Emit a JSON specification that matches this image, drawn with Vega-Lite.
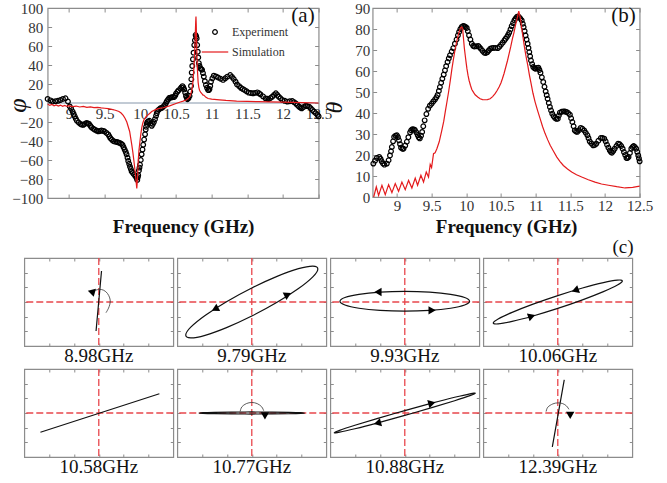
{
  "$schema": "https://vega.github.io/schema/vega-lite/v6.json",
  "padding": {"left": 4, "top": 0, "right": 0, "bottom": 0},
  "config": {
    "font": "Liberation Serif",
    "view": {"stroke": "#8c8c8c", "strokeWidth": 1.2},
    "axis": {
      "grid": false, "domain": false, "tickColor": "#8c8c8c", "tickWidth": 1,
      "labelFont": "Liberation Serif", "labelFontSize": 15, "labelColor": "#333333",
      "labelFlush": false, "labelOverlap": false,
      "titleFont": "Liberation Serif", "titleColor": "#111111"
    },
    "title": {"font": "Liberation Serif", "fontWeight": "normal", "color": "#111111"}
  },
  "datasets": {
    "phi": [
      {"s":"Experiment","f":8.70,"v":4.3},{"s":"Experiment","f":8.74,"v":2.8},{"s":"Experiment","f":8.77,"v":1.6},{"s":"Experiment","f":8.81,"v":1.8},
      {"s":"Experiment","f":8.845,"v":2.3},{"s":"Experiment","f":8.88,"v":3.2},{"s":"Experiment","f":8.915,"v":4.3},{"s":"Experiment","f":8.95,"v":5},
      {"s":"Experiment","f":8.985,"v":1.6},{"s":"Experiment","f":9.01,"v":-3.6},{"s":"Experiment","f":9.03,"v":-6},{"s":"Experiment","f":9.05,"v":-9},
      {"s":"Experiment","f":9.065,"v":-11.5},{"s":"Experiment","f":9.08,"v":-14},{"s":"Experiment","f":9.095,"v":-16.5},{"s":"Experiment","f":9.11,"v":-18.7},
      {"s":"Experiment","f":9.135,"v":-20.5},{"s":"Experiment","f":9.16,"v":-22},{"s":"Experiment","f":9.18,"v":-22.8},{"s":"Experiment","f":9.2,"v":-23},
      {"s":"Experiment","f":9.22,"v":-22},{"s":"Experiment","f":9.245,"v":-21},{"s":"Experiment","f":9.265,"v":-21.5},{"s":"Experiment","f":9.28,"v":-22},
      {"s":"Experiment","f":9.3,"v":-24},{"s":"Experiment","f":9.315,"v":-25.6},{"s":"Experiment","f":9.34,"v":-27},{"s":"Experiment","f":9.36,"v":-28},
      {"s":"Experiment","f":9.385,"v":-29},{"s":"Experiment","f":9.41,"v":-29.8},{"s":"Experiment","f":9.435,"v":-29.5},{"s":"Experiment","f":9.455,"v":-29},
      {"s":"Experiment","f":9.48,"v":-29.3},{"s":"Experiment","f":9.5,"v":-30},{"s":"Experiment","f":9.525,"v":-31.5},{"s":"Experiment","f":9.55,"v":-33},
      {"s":"Experiment","f":9.565,"v":-35},{"s":"Experiment","f":9.58,"v":-37},{"s":"Experiment","f":9.6,"v":-38.5},{"s":"Experiment","f":9.62,"v":-40},
      {"s":"Experiment","f":9.645,"v":-40.7},{"s":"Experiment","f":9.67,"v":-41},{"s":"Experiment","f":9.69,"v":-41.5},{"s":"Experiment","f":9.71,"v":-42},
      {"s":"Experiment","f":9.73,"v":-42.8},{"s":"Experiment","f":9.75,"v":-44},{"s":"Experiment","f":9.765,"v":-46.5},{"s":"Experiment","f":9.78,"v":-49},
      {"s":"Experiment","f":9.795,"v":-51.5},{"s":"Experiment","f":9.807,"v":-54},{"s":"Experiment","f":9.82,"v":-57.5},{"s":"Experiment","f":9.83,"v":-61},
      {"s":"Experiment","f":9.843,"v":-64},{"s":"Experiment","f":9.855,"v":-67},{"s":"Experiment","f":9.867,"v":-69.5},{"s":"Experiment","f":9.878,"v":-72},
      {"s":"Experiment","f":9.895,"v":-73.5},{"s":"Experiment","f":9.91,"v":-75},{"s":"Experiment","f":9.93,"v":-77},{"s":"Experiment","f":9.948,"v":-79},
      {"s":"Experiment","f":9.957,"v":-81},{"s":"Experiment","f":9.965,"v":-78},{"s":"Experiment","f":9.97,"v":-76},{"s":"Experiment","f":9.98,"v":-71},
      {"s":"Experiment","f":9.988,"v":-68},{"s":"Experiment","f":9.995,"v":-65},{"s":"Experiment","f":10.006,"v":-60},{"s":"Experiment","f":10.018,"v":-54},
      {"s":"Experiment","f":10.03,"v":-49},{"s":"Experiment","f":10.04,"v":-44},{"s":"Experiment","f":10.053,"v":-38.5},{"s":"Experiment","f":10.066,"v":-33},
      {"s":"Experiment","f":10.075,"v":-28},{"s":"Experiment","f":10.08,"v":-25},{"s":"Experiment","f":10.09,"v":-22},{"s":"Experiment","f":10.098,"v":-20},
      {"s":"Experiment","f":10.11,"v":-19.5},{"s":"Experiment","f":10.127,"v":-18.7},{"s":"Experiment","f":10.145,"v":-21.5},{"s":"Experiment","f":10.16,"v":-24},
      {"s":"Experiment","f":10.175,"v":-22},{"s":"Experiment","f":10.19,"v":-20},{"s":"Experiment","f":10.205,"v":-17},{"s":"Experiment","f":10.22,"v":-13.5},
      {"s":"Experiment","f":10.23,"v":-10.8},{"s":"Experiment","f":10.24,"v":-8.3},{"s":"Experiment","f":10.258,"v":-7},{"s":"Experiment","f":10.276,"v":-5.8},
      {"s":"Experiment","f":10.295,"v":-5.2},{"s":"Experiment","f":10.31,"v":-4.7},{"s":"Experiment","f":10.33,"v":-3.2},{"s":"Experiment","f":10.346,"v":-1.8},
      {"s":"Experiment","f":10.36,"v":0},{"s":"Experiment","f":10.37,"v":1.8},{"s":"Experiment","f":10.388,"v":3.5},{"s":"Experiment","f":10.403,"v":5.3},
      {"s":"Experiment","f":10.42,"v":5.7},{"s":"Experiment","f":10.44,"v":6},{"s":"Experiment","f":10.458,"v":6.2},{"s":"Experiment","f":10.475,"v":6.3},
      {"s":"Experiment","f":10.49,"v":8},{"s":"Experiment","f":10.5,"v":10},{"s":"Experiment","f":10.52,"v":11.8},{"s":"Experiment","f":10.535,"v":13.3},
      {"s":"Experiment","f":10.56,"v":15},{"s":"Experiment","f":10.575,"v":16.5},{"s":"Experiment","f":10.591,"v":17.8},{"s":"Experiment","f":10.603,"v":16.5},
      {"s":"Experiment","f":10.615,"v":14.3},{"s":"Experiment","f":10.628,"v":11},{"s":"Experiment","f":10.64,"v":7.4},{"s":"Experiment","f":10.65,"v":5.5},
      {"s":"Experiment","f":10.66,"v":4},{"s":"Experiment","f":10.675,"v":5},{"s":"Experiment","f":10.69,"v":7.4},{"s":"Experiment","f":10.7,"v":12},
      {"s":"Experiment","f":10.71,"v":18},{"s":"Experiment","f":10.715,"v":25},{"s":"Experiment","f":10.72,"v":32},{"s":"Experiment","f":10.728,"v":39},
      {"s":"Experiment","f":10.737,"v":46},{"s":"Experiment","f":10.746,"v":53},{"s":"Experiment","f":10.756,"v":61},{"s":"Experiment","f":10.765,"v":66},
      {"s":"Experiment","f":10.775,"v":71.6},{"s":"Experiment","f":10.783,"v":70},{"s":"Experiment","f":10.79,"v":68},{"s":"Experiment","f":10.797,"v":61},
      {"s":"Experiment","f":10.805,"v":54},{"s":"Experiment","f":10.812,"v":48},{"s":"Experiment","f":10.82,"v":42},{"s":"Experiment","f":10.83,"v":39},
      {"s":"Experiment","f":10.84,"v":36.6},{"s":"Experiment","f":10.853,"v":35.8},{"s":"Experiment","f":10.866,"v":35},{"s":"Experiment","f":10.878,"v":31.5},
      {"s":"Experiment","f":10.89,"v":27.8},{"s":"Experiment","f":10.905,"v":23},{"s":"Experiment","f":10.92,"v":18.9},{"s":"Experiment","f":10.935,"v":16},
      {"s":"Experiment","f":10.95,"v":13.7},{"s":"Experiment","f":10.96,"v":13.5},{"s":"Experiment","f":10.97,"v":14.7},{"s":"Experiment","f":10.98,"v":18},
      {"s":"Experiment","f":10.99,"v":22.4},{"s":"Experiment","f":11.01,"v":26},{"s":"Experiment","f":11.03,"v":28.8},{"s":"Experiment","f":11.06,"v":28},
      {"s":"Experiment","f":11.09,"v":26.8},{"s":"Experiment","f":11.125,"v":25.5},{"s":"Experiment","f":11.16,"v":24.3},{"s":"Experiment","f":11.19,"v":26},
      {"s":"Experiment","f":11.22,"v":27.8},{"s":"Experiment","f":11.26,"v":29.5},{"s":"Experiment","f":11.285,"v":27.5},{"s":"Experiment","f":11.31,"v":25.3},
      {"s":"Experiment","f":11.335,"v":22.5},{"s":"Experiment","f":11.356,"v":19.6},{"s":"Experiment","f":11.385,"v":17.8},{"s":"Experiment","f":11.41,"v":16},
      {"s":"Experiment","f":11.435,"v":14.8},{"s":"Experiment","f":11.46,"v":13.7},{"s":"Experiment","f":11.49,"v":12.3},{"s":"Experiment","f":11.52,"v":10.9},
      {"s":"Experiment","f":11.55,"v":10.5},{"s":"Experiment","f":11.58,"v":10.2},{"s":"Experiment","f":11.61,"v":10.7},{"s":"Experiment","f":11.64,"v":11.2},
      {"s":"Experiment","f":11.665,"v":10.2},{"s":"Experiment","f":11.685,"v":9.1},{"s":"Experiment","f":11.72,"v":7},{"s":"Experiment","f":11.755,"v":4.9},
      {"s":"Experiment","f":11.78,"v":4.5},{"s":"Experiment","f":11.8,"v":4.2},{"s":"Experiment","f":11.825,"v":5.3},{"s":"Experiment","f":11.85,"v":6.7},
      {"s":"Experiment","f":11.875,"v":8.5},{"s":"Experiment","f":11.9,"v":10.2},{"s":"Experiment","f":11.92,"v":8.5},{"s":"Experiment","f":11.94,"v":6.7},
      {"s":"Experiment","f":11.965,"v":5},{"s":"Experiment","f":11.99,"v":3.2},{"s":"Experiment","f":12.025,"v":2.3},{"s":"Experiment","f":12.06,"v":1.5},
      {"s":"Experiment","f":12.095,"v":1.8},{"s":"Experiment","f":12.13,"v":2.1},{"s":"Experiment","f":12.155,"v":0.9},{"s":"Experiment","f":12.18,"v":-0.4},
      {"s":"Experiment","f":12.2,"v":-2},{"s":"Experiment","f":12.225,"v":-3.9},{"s":"Experiment","f":12.245,"v":-4.8},{"s":"Experiment","f":12.263,"v":-5.6},
      {"s":"Experiment","f":12.29,"v":-4.2},{"s":"Experiment","f":12.32,"v":-2.8},{"s":"Experiment","f":12.34,"v":-3.3},{"s":"Experiment","f":12.365,"v":-3.9},
      {"s":"Experiment","f":12.39,"v":-5.5},{"s":"Experiment","f":12.41,"v":-7.3},{"s":"Experiment","f":12.435,"v":-9},{"s":"Experiment","f":12.46,"v":-10.8},
      {"s":"Experiment","f":12.485,"v":-12.5},{"s":"Experiment","f":12.5,"v":-14},
      {"s":"Simulation","f":8.7,"v":-1},{"s":"Simulation","f":8.73,"v":-2.5},{"s":"Simulation","f":8.76,"v":-1.5},{"s":"Simulation","f":8.79,"v":-3},
      {"s":"Simulation","f":8.82,"v":-2},{"s":"Simulation","f":8.85,"v":-3.2},{"s":"Simulation","f":8.88,"v":-2.2},{"s":"Simulation","f":8.91,"v":-3.4},
      {"s":"Simulation","f":8.94,"v":-2.5},{"s":"Simulation","f":8.97,"v":-3.6},{"s":"Simulation","f":9.0,"v":-2.8},{"s":"Simulation","f":9.05,"v":-3.8},
      {"s":"Simulation","f":9.1,"v":-3.2},{"s":"Simulation","f":9.15,"v":-4.2},{"s":"Simulation","f":9.2,"v":-3.6},{"s":"Simulation","f":9.25,"v":-4.5},
      {"s":"Simulation","f":9.3,"v":-4},{"s":"Simulation","f":9.35,"v":-4.8},{"s":"Simulation","f":9.4,"v":-4.6},{"s":"Simulation","f":9.45,"v":-5.2},
      {"s":"Simulation","f":9.5,"v":-5.5},{"s":"Simulation","f":9.55,"v":-6},{"s":"Simulation","f":9.6,"v":-6.8},{"s":"Simulation","f":9.65,"v":-7.6},
      {"s":"Simulation","f":9.7,"v":-9},{"s":"Simulation","f":9.73,"v":-10.5},{"s":"Simulation","f":9.76,"v":-13},{"s":"Simulation","f":9.785,"v":-16},
      {"s":"Simulation","f":9.81,"v":-20},{"s":"Simulation","f":9.83,"v":-25},{"s":"Simulation","f":9.85,"v":-30},{"s":"Simulation","f":9.865,"v":-37},
      {"s":"Simulation","f":9.88,"v":-44},{"s":"Simulation","f":9.895,"v":-52},{"s":"Simulation","f":9.91,"v":-61},{"s":"Simulation","f":9.925,"v":-71},
      {"s":"Simulation","f":9.94,"v":-82},{"s":"Simulation","f":9.95,"v":-90},{"s":"Simulation","f":9.96,"v":-80},{"s":"Simulation","f":9.97,"v":-61},
      {"s":"Simulation","f":9.98,"v":-50},{"s":"Simulation","f":9.995,"v":-40},{"s":"Simulation","f":10.008,"v":-32},{"s":"Simulation","f":10.02,"v":-26},
      {"s":"Simulation","f":10.035,"v":-21},{"s":"Simulation","f":10.05,"v":-17.7},{"s":"Simulation","f":10.075,"v":-15},{"s":"Simulation","f":10.1,"v":-13},
      {"s":"Simulation","f":10.13,"v":-11},{"s":"Simulation","f":10.16,"v":-9},{"s":"Simulation","f":10.2,"v":-7.5},{"s":"Simulation","f":10.25,"v":-6},
      {"s":"Simulation","f":10.32,"v":-5},{"s":"Simulation","f":10.41,"v":-3},{"s":"Simulation","f":10.5,"v":-0.5},{"s":"Simulation","f":10.56,"v":1},
      {"s":"Simulation","f":10.6,"v":2},{"s":"Simulation","f":10.64,"v":3.2},{"s":"Simulation","f":10.67,"v":4.6},{"s":"Simulation","f":10.69,"v":6.5},
      {"s":"Simulation","f":10.71,"v":10},{"s":"Simulation","f":10.725,"v":15},{"s":"Simulation","f":10.737,"v":22},{"s":"Simulation","f":10.747,"v":32},
      {"s":"Simulation","f":10.756,"v":43},{"s":"Simulation","f":10.763,"v":57},{"s":"Simulation","f":10.77,"v":71},{"s":"Simulation","f":10.776,"v":85},
      {"s":"Simulation","f":10.78,"v":91},{"s":"Simulation","f":10.784,"v":82},{"s":"Simulation","f":10.787,"v":71},{"s":"Simulation","f":10.791,"v":57},
      {"s":"Simulation","f":10.796,"v":43},{"s":"Simulation","f":10.803,"v":31},{"s":"Simulation","f":10.81,"v":22},{"s":"Simulation","f":10.82,"v":16.5},
      {"s":"Simulation","f":10.83,"v":13.5},{"s":"Simulation","f":10.845,"v":11.5},{"s":"Simulation","f":10.862,"v":10},{"s":"Simulation","f":10.875,"v":8.5},
      {"s":"Simulation","f":10.89,"v":8.2},{"s":"Simulation","f":10.9,"v":7.5},{"s":"Simulation","f":10.92,"v":6},{"s":"Simulation","f":10.95,"v":4.7},
      {"s":"Simulation","f":11.0,"v":4},{"s":"Simulation","f":11.11,"v":3.3},{"s":"Simulation","f":11.2,"v":2.7},{"s":"Simulation","f":11.35,"v":2},
      {"s":"Simulation","f":11.5,"v":1.7},{"s":"Simulation","f":11.65,"v":1.4},{"s":"Simulation","f":11.8,"v":1.2},{"s":"Simulation","f":12.0,"v":0.9},
      {"s":"Simulation","f":12.27,"v":0.4},{"s":"Simulation","f":12.5,"v":0}
    ],
    "theta": [
      {"s":"Experiment","f":8.66,"v":15.9},{"s":"Experiment","f":8.685,"v":17.3},{"s":"Experiment","f":8.71,"v":18.6},{"s":"Experiment","f":8.745,"v":19.1},
      {"s":"Experiment","f":8.765,"v":18.2},{"s":"Experiment","f":8.78,"v":17},{"s":"Experiment","f":8.8,"v":16},{"s":"Experiment","f":8.82,"v":15.4},
      {"s":"Experiment","f":8.855,"v":15.9},{"s":"Experiment","f":8.88,"v":17.5},{"s":"Experiment","f":8.9,"v":19.8},{"s":"Experiment","f":8.915,"v":21.8},
      {"s":"Experiment","f":8.927,"v":23.8},{"s":"Experiment","f":8.945,"v":26.5},{"s":"Experiment","f":8.96,"v":28.6},{"s":"Experiment","f":8.98,"v":29.2},
      {"s":"Experiment","f":9.0,"v":29.4},{"s":"Experiment","f":9.015,"v":28.5},{"s":"Experiment","f":9.03,"v":27},{"s":"Experiment","f":9.045,"v":25.2},
      {"s":"Experiment","f":9.06,"v":23.5},{"s":"Experiment","f":9.08,"v":23},{"s":"Experiment","f":9.095,"v":23},{"s":"Experiment","f":9.12,"v":24.5},
      {"s":"Experiment","f":9.143,"v":26.3},{"s":"Experiment","f":9.165,"v":28.5},{"s":"Experiment","f":9.19,"v":30.8},{"s":"Experiment","f":9.205,"v":31.8},
      {"s":"Experiment","f":9.225,"v":32.3},{"s":"Experiment","f":9.245,"v":32.2},{"s":"Experiment","f":9.26,"v":31.9},{"s":"Experiment","f":9.28,"v":30.8},
      {"s":"Experiment","f":9.3,"v":29.5},{"s":"Experiment","f":9.315,"v":28.4},{"s":"Experiment","f":9.33,"v":27.9},{"s":"Experiment","f":9.348,"v":29.2},
      {"s":"Experiment","f":9.364,"v":31},{"s":"Experiment","f":9.38,"v":33.7},{"s":"Experiment","f":9.4,"v":36.5},{"s":"Experiment","f":9.425,"v":39.5},
      {"s":"Experiment","f":9.45,"v":42},{"s":"Experiment","f":9.475,"v":43.5},{"s":"Experiment","f":9.5,"v":44.4},{"s":"Experiment","f":9.525,"v":45.5},
      {"s":"Experiment","f":9.55,"v":46.5},{"s":"Experiment","f":9.57,"v":47.5},{"s":"Experiment","f":9.587,"v":48.6},{"s":"Experiment","f":9.605,"v":50.5},
      {"s":"Experiment","f":9.62,"v":52.4},{"s":"Experiment","f":9.638,"v":54.4},{"s":"Experiment","f":9.655,"v":56.3},{"s":"Experiment","f":9.675,"v":58.3},
      {"s":"Experiment","f":9.693,"v":60.3},{"s":"Experiment","f":9.71,"v":62.3},{"s":"Experiment","f":9.73,"v":64.3},{"s":"Experiment","f":9.748,"v":66},
      {"s":"Experiment","f":9.765,"v":67.5},{"s":"Experiment","f":9.79,"v":69.3},{"s":"Experiment","f":9.813,"v":70.9},{"s":"Experiment","f":9.836,"v":73},
      {"s":"Experiment","f":9.86,"v":75},{"s":"Experiment","f":9.88,"v":77},{"s":"Experiment","f":9.897,"v":78.6},{"s":"Experiment","f":9.915,"v":80},
      {"s":"Experiment","f":9.935,"v":81},{"s":"Experiment","f":9.955,"v":81.4},{"s":"Experiment","f":9.973,"v":81.3},{"s":"Experiment","f":9.99,"v":81},
      {"s":"Experiment","f":10.007,"v":80.5},{"s":"Experiment","f":10.022,"v":79},{"s":"Experiment","f":10.04,"v":77},{"s":"Experiment","f":10.06,"v":75},
      {"s":"Experiment","f":10.08,"v":73},{"s":"Experiment","f":10.1,"v":72},{"s":"Experiment","f":10.117,"v":71.7},{"s":"Experiment","f":10.145,"v":71.8},
      {"s":"Experiment","f":10.175,"v":71.9},{"s":"Experiment","f":10.19,"v":71.3},{"s":"Experiment","f":10.21,"v":70.6},{"s":"Experiment","f":10.235,"v":69.6},
      {"s":"Experiment","f":10.26,"v":68.7},{"s":"Experiment","f":10.283,"v":68.6},{"s":"Experiment","f":10.305,"v":69},{"s":"Experiment","f":10.325,"v":69.8},
      {"s":"Experiment","f":10.345,"v":70.6},{"s":"Experiment","f":10.368,"v":70.9},{"s":"Experiment","f":10.39,"v":71},{"s":"Experiment","f":10.42,"v":71},
      {"s":"Experiment","f":10.455,"v":70.9},{"s":"Experiment","f":10.478,"v":71.6},{"s":"Experiment","f":10.5,"v":72.5},{"s":"Experiment","f":10.525,"v":73.5},
      {"s":"Experiment","f":10.55,"v":74.6},{"s":"Experiment","f":10.567,"v":75.4},{"s":"Experiment","f":10.585,"v":76.2},{"s":"Experiment","f":10.603,"v":77.2},
      {"s":"Experiment","f":10.62,"v":78.3},{"s":"Experiment","f":10.638,"v":79.8},{"s":"Experiment","f":10.655,"v":81.4},{"s":"Experiment","f":10.675,"v":82.8},
      {"s":"Experiment","f":10.694,"v":84.1},{"s":"Experiment","f":10.71,"v":85},{"s":"Experiment","f":10.728,"v":85.7},{"s":"Experiment","f":10.745,"v":86},
      {"s":"Experiment","f":10.76,"v":85.7},{"s":"Experiment","f":10.78,"v":85},{"s":"Experiment","f":10.8,"v":84.1},{"s":"Experiment","f":10.815,"v":82.5},
      {"s":"Experiment","f":10.827,"v":80.9},{"s":"Experiment","f":10.842,"v":79},{"s":"Experiment","f":10.856,"v":76.9},{"s":"Experiment","f":10.87,"v":75},
      {"s":"Experiment","f":10.885,"v":73},{"s":"Experiment","f":10.897,"v":71},{"s":"Experiment","f":10.909,"v":69},{"s":"Experiment","f":10.921,"v":67},
      {"s":"Experiment","f":10.933,"v":65},{"s":"Experiment","f":10.95,"v":63.3},{"s":"Experiment","f":10.966,"v":61.9},{"s":"Experiment","f":10.983,"v":61.3},
      {"s":"Experiment","f":11.0,"v":61.1},{"s":"Experiment","f":11.02,"v":61.5},{"s":"Experiment","f":11.04,"v":61.6},{"s":"Experiment","f":11.055,"v":60.5},
      {"s":"Experiment","f":11.07,"v":59.2},{"s":"Experiment","f":11.09,"v":57},{"s":"Experiment","f":11.11,"v":54.8},{"s":"Experiment","f":11.128,"v":52.5},
      {"s":"Experiment","f":11.145,"v":50.3},{"s":"Experiment","f":11.16,"v":48.5},{"s":"Experiment","f":11.173,"v":46.8},{"s":"Experiment","f":11.19,"v":44.8},
      {"s":"Experiment","f":11.206,"v":42.9},{"s":"Experiment","f":11.223,"v":41.2},{"s":"Experiment","f":11.24,"v":39.7},{"s":"Experiment","f":11.26,"v":38.5},
      {"s":"Experiment","f":11.28,"v":37.6},{"s":"Experiment","f":11.3,"v":37.2},{"s":"Experiment","f":11.32,"v":37.3},{"s":"Experiment","f":11.335,"v":38.8},
      {"s":"Experiment","f":11.35,"v":40.2},{"s":"Experiment","f":11.375,"v":40.6},{"s":"Experiment","f":11.4,"v":40.8},{"s":"Experiment","f":11.423,"v":40.7},
      {"s":"Experiment","f":11.446,"v":40.5},{"s":"Experiment","f":11.47,"v":40},{"s":"Experiment","f":11.494,"v":39.2},{"s":"Experiment","f":11.512,"v":37.5},
      {"s":"Experiment","f":11.53,"v":35.7},{"s":"Experiment","f":11.548,"v":33.7},{"s":"Experiment","f":11.565,"v":31.7},{"s":"Experiment","f":11.583,"v":31.2},
      {"s":"Experiment","f":11.6,"v":31},{"s":"Experiment","f":11.625,"v":31.8},{"s":"Experiment","f":11.65,"v":32.9},{"s":"Experiment","f":11.675,"v":32.5},
      {"s":"Experiment","f":11.7,"v":31.7},{"s":"Experiment","f":11.723,"v":30.6},{"s":"Experiment","f":11.747,"v":29.4},{"s":"Experiment","f":11.763,"v":28},
      {"s":"Experiment","f":11.78,"v":26.5},{"s":"Experiment","f":11.805,"v":25.5},{"s":"Experiment","f":11.83,"v":24.6},{"s":"Experiment","f":11.853,"v":24.8},
      {"s":"Experiment","f":11.875,"v":25.4},{"s":"Experiment","f":11.905,"v":26.8},{"s":"Experiment","f":11.94,"v":28.1},{"s":"Experiment","f":11.965,"v":28.1},
      {"s":"Experiment","f":11.99,"v":27.8},{"s":"Experiment","f":12.01,"v":26.5},{"s":"Experiment","f":12.03,"v":24.9},{"s":"Experiment","f":12.05,"v":23.5},
      {"s":"Experiment","f":12.07,"v":22.2},{"s":"Experiment","f":12.085,"v":21.5},{"s":"Experiment","f":12.1,"v":21.1},{"s":"Experiment","f":12.12,"v":21.9},
      {"s":"Experiment","f":12.14,"v":23},{"s":"Experiment","f":12.165,"v":24.3},{"s":"Experiment","f":12.19,"v":25.4},{"s":"Experiment","f":12.213,"v":25.1},
      {"s":"Experiment","f":12.235,"v":24.3},{"s":"Experiment","f":12.255,"v":23},{"s":"Experiment","f":12.274,"v":21.4},{"s":"Experiment","f":12.292,"v":20},
      {"s":"Experiment","f":12.31,"v":18.6},{"s":"Experiment","f":12.325,"v":18.6},{"s":"Experiment","f":12.34,"v":19.1},{"s":"Experiment","f":12.36,"v":21},
      {"s":"Experiment","f":12.38,"v":23},{"s":"Experiment","f":12.397,"v":23.8},{"s":"Experiment","f":12.414,"v":24.3},{"s":"Experiment","f":12.432,"v":23.8},
      {"s":"Experiment","f":12.45,"v":23},{"s":"Experiment","f":12.465,"v":21.5},{"s":"Experiment","f":12.48,"v":19.8},{"s":"Experiment","f":12.49,"v":18.4},
      {"s":"Experiment","f":12.5,"v":17},
      {"s":"Simulation","f":8.665,"v":0},{"s":"Simulation","f":8.703,"v":4.8},{"s":"Simulation","f":8.736,"v":0.8},{"s":"Simulation","f":8.784,"v":5.6},
      {"s":"Simulation","f":8.832,"v":1.1},{"s":"Simulation","f":8.88,"v":5.9},{"s":"Simulation","f":8.928,"v":2.1},{"s":"Simulation","f":8.976,"v":6.4},
      {"s":"Simulation","f":9.024,"v":2.7},{"s":"Simulation","f":9.072,"v":7.1},{"s":"Simulation","f":9.12,"v":3.5},{"s":"Simulation","f":9.168,"v":7.9},
      {"s":"Simulation","f":9.216,"v":4.3},{"s":"Simulation","f":9.264,"v":9},{"s":"Simulation","f":9.298,"v":5.6},{"s":"Simulation","f":9.346,"v":10.3},
      {"s":"Simulation","f":9.384,"v":7.1},{"s":"Simulation","f":9.423,"v":11.9},{"s":"Simulation","f":9.456,"v":9.5},{"s":"Simulation","f":9.48,"v":15.5},
      {"s":"Simulation","f":9.5,"v":14},{"s":"Simulation","f":9.528,"v":20.6},{"s":"Simulation","f":9.55,"v":21},{"s":"Simulation","f":9.576,"v":23},
      {"s":"Simulation","f":9.61,"v":26.3},{"s":"Simulation","f":9.649,"v":32},{"s":"Simulation","f":9.675,"v":36},{"s":"Simulation","f":9.697,"v":40.5},
      {"s":"Simulation","f":9.72,"v":45},{"s":"Simulation","f":9.745,"v":50},{"s":"Simulation","f":9.77,"v":55.5},{"s":"Simulation","f":9.793,"v":61},
      {"s":"Simulation","f":9.817,"v":66},{"s":"Simulation","f":9.841,"v":70.6},{"s":"Simulation","f":9.865,"v":74.5},{"s":"Simulation","f":9.89,"v":77.8},
      {"s":"Simulation","f":9.91,"v":79.8},{"s":"Simulation","f":9.93,"v":81},{"s":"Simulation","f":9.947,"v":80.5},{"s":"Simulation","f":9.96,"v":75.5},
      {"s":"Simulation","f":9.972,"v":71},{"s":"Simulation","f":9.985,"v":67.5},{"s":"Simulation","f":10.0,"v":63.5},{"s":"Simulation","f":10.01,"v":61},
      {"s":"Simulation","f":10.025,"v":58},{"s":"Simulation","f":10.04,"v":55.6},{"s":"Simulation","f":10.06,"v":53.2},{"s":"Simulation","f":10.08,"v":51.2},
      {"s":"Simulation","f":10.105,"v":49.8},{"s":"Simulation","f":10.128,"v":48.7},{"s":"Simulation","f":10.165,"v":47.6},{"s":"Simulation","f":10.2,"v":46.8},
      {"s":"Simulation","f":10.235,"v":46.4},{"s":"Simulation","f":10.27,"v":46.3},{"s":"Simulation","f":10.305,"v":46.4},{"s":"Simulation","f":10.344,"v":46.8},
      {"s":"Simulation","f":10.38,"v":47.8},{"s":"Simulation","f":10.416,"v":49.2},{"s":"Simulation","f":10.445,"v":50.7},{"s":"Simulation","f":10.473,"v":52.4},
      {"s":"Simulation","f":10.5,"v":54.3},{"s":"Simulation","f":10.521,"v":56.3},{"s":"Simulation","f":10.545,"v":58.8},{"s":"Simulation","f":10.57,"v":61.9},
      {"s":"Simulation","f":10.595,"v":65},{"s":"Simulation","f":10.618,"v":68.3},{"s":"Simulation","f":10.643,"v":71.8},{"s":"Simulation","f":10.666,"v":75.4},
      {"s":"Simulation","f":10.688,"v":78.3},{"s":"Simulation","f":10.705,"v":81},{"s":"Simulation","f":10.722,"v":83.5},{"s":"Simulation","f":10.738,"v":85.7},
      {"s":"Simulation","f":10.757,"v":88.5},{"s":"Simulation","f":10.777,"v":85.7},{"s":"Simulation","f":10.79,"v":82.8},{"s":"Simulation","f":10.8,"v":80.2},
      {"s":"Simulation","f":10.82,"v":75.8},{"s":"Simulation","f":10.839,"v":71.4},{"s":"Simulation","f":10.862,"v":67},{"s":"Simulation","f":10.887,"v":62.7},
      {"s":"Simulation","f":10.91,"v":58.2},{"s":"Simulation","f":10.935,"v":54},{"s":"Simulation","f":10.962,"v":49.4},{"s":"Simulation","f":10.993,"v":45.2},
      {"s":"Simulation","f":11.03,"v":41},{"s":"Simulation","f":11.065,"v":37.3},{"s":"Simulation","f":11.1,"v":33.6},{"s":"Simulation","f":11.137,"v":30.2},
      {"s":"Simulation","f":11.175,"v":27.2},{"s":"Simulation","f":11.21,"v":24.6},{"s":"Simulation","f":11.26,"v":21.7},{"s":"Simulation","f":11.306,"v":19},
      {"s":"Simulation","f":11.35,"v":17},{"s":"Simulation","f":11.4,"v":15},{"s":"Simulation","f":11.46,"v":13.3},{"s":"Simulation","f":11.52,"v":11.9},
      {"s":"Simulation","f":11.59,"v":10.6},{"s":"Simulation","f":11.665,"v":9.5},{"s":"Simulation","f":11.76,"v":8.2},{"s":"Simulation","f":11.857,"v":7.1},
      {"s":"Simulation","f":11.95,"v":6.2},{"s":"Simulation","f":12.05,"v":5.6},{"s":"Simulation","f":12.17,"v":4.9},{"s":"Simulation","f":12.29,"v":4.3},
      {"s":"Simulation","f":12.4,"v":4.6},{"s":"Simulation","f":12.5,"v":5.2}
    ],
    "pol": [
      {"f":"8.98GHz","k":"e","i":0,"x":0.11,"y":2.11},{"f":"8.98GHz","k":"e","i":1,"x":-0.11,"y":-1.98},
      {"f":"8.98GHz","k":"a","i":0,"x":-0.22,"y":0.74},{"f":"8.98GHz","k":"a","i":1,"x":0,"y":0.86},{"f":"8.98GHz","k":"a","i":2,"x":0.2,"y":0.8},
      {"f":"8.98GHz","k":"a","i":3,"x":0.35,"y":0.58},{"f":"8.98GHz","k":"a","i":4,"x":0.44,"y":0.28},{"f":"8.98GHz","k":"a","i":5,"x":0.46,"y":0},
      {"f":"8.98GHz","k":"a","i":6,"x":0.42,"y":-0.3},{"f":"8.98GHz","k":"a","i":7,"x":0.36,"y":-0.53},{"f":"8.98GHz","k":"a","i":8,"x":0.29,"y":-0.73},
      {"f":"8.98GHz","k":"h","i":0,"x":-0.3,"y":0.7,"dir":195},

      {"f":"9.79GHz","k":"e","i":0,"x":2.66,"y":2.255},{"f":"9.79GHz","k":"e","i":1,"x":2.458,"y":2.45},{"f":"9.79GHz","k":"e","i":2,"x":1.881,"y":2.272},
      {"f":"9.79GHz","k":"e","i":3,"x":1.018,"y":1.748},{"f":"9.79GHz","k":"e","i":4,"x":0,"y":0.957},{"f":"9.79GHz","k":"e","i":5,"x":-1.018,"y":0.021},
      {"f":"9.79GHz","k":"e","i":6,"x":-1.881,"y":-0.918},{"f":"9.79GHz","k":"e","i":7,"x":-2.458,"y":-1.717},{"f":"9.79GHz","k":"e","i":8,"x":-2.66,"y":-2.255},
      {"f":"9.79GHz","k":"e","i":9,"x":-2.458,"y":-2.45},{"f":"9.79GHz","k":"e","i":10,"x":-1.881,"y":-2.272},{"f":"9.79GHz","k":"e","i":11,"x":-1.018,"y":-1.748},
      {"f":"9.79GHz","k":"e","i":12,"x":0,"y":-0.957},{"f":"9.79GHz","k":"e","i":13,"x":1.018,"y":-0.021},{"f":"9.79GHz","k":"e","i":14,"x":1.881,"y":0.918},
      {"f":"9.79GHz","k":"e","i":15,"x":2.458,"y":1.717},
      {"f":"9.79GHz","k":"h","i":0,"x":1.45,"y":0.5,"dir":333},{"f":"9.79GHz","k":"h","i":1,"x":-1.48,"y":-0.48,"dir":153},

      {"f":"9.93GHz","k":"e","i":0,"x":2.61,"y":0.05},{"f":"9.93GHz","k":"e","i":1,"x":2.411,"y":0.306},{"f":"9.93GHz","k":"e","i":2,"x":1.846,"y":0.524},
      {"f":"9.93GHz","k":"e","i":3,"x":0.999,"y":0.669},{"f":"9.93GHz","k":"e","i":4,"x":0,"y":0.72},{"f":"9.93GHz","k":"e","i":5,"x":-0.999,"y":0.669},
      {"f":"9.93GHz","k":"e","i":6,"x":-1.846,"y":0.524},{"f":"9.93GHz","k":"e","i":7,"x":-2.411,"y":0.306},{"f":"9.93GHz","k":"e","i":8,"x":-2.61,"y":0.05},
      {"f":"9.93GHz","k":"e","i":9,"x":-2.411,"y":-0.206},{"f":"9.93GHz","k":"e","i":10,"x":-1.846,"y":-0.424},{"f":"9.93GHz","k":"e","i":11,"x":-0.999,"y":-0.569},
      {"f":"9.93GHz","k":"e","i":12,"x":0,"y":-0.62},{"f":"9.93GHz","k":"e","i":13,"x":0.999,"y":-0.569},{"f":"9.93GHz","k":"e","i":14,"x":1.846,"y":-0.424},
      {"f":"9.93GHz","k":"e","i":15,"x":2.411,"y":-0.206},
      {"f":"9.93GHz","k":"h","i":0,"x":-1.08,"y":0.68,"dir":180},{"f":"9.93GHz","k":"h","i":1,"x":1.1,"y":-0.57,"dir":0},

      {"f":"10.06GHz","k":"e","i":0,"x":2.6,"y":1.434},{"f":"10.06GHz","k":"e","i":1,"x":2.402,"y":1.493},{"f":"10.06GHz","k":"e","i":2,"x":1.838,"y":1.325},
      {"f":"10.06GHz","k":"e","i":3,"x":0.995,"y":0.954},{"f":"10.06GHz","k":"e","i":4,"x":0,"y":0.439},{"f":"10.06GHz","k":"e","i":5,"x":-0.995,"y":-0.144},
      {"f":"10.06GHz","k":"e","i":6,"x":-1.838,"y":-0.704},{"f":"10.06GHz","k":"e","i":7,"x":-2.402,"y":-1.157},{"f":"10.06GHz","k":"e","i":8,"x":-2.6,"y":-1.434},
      {"f":"10.06GHz","k":"e","i":9,"x":-2.402,"y":-1.493},{"f":"10.06GHz","k":"e","i":10,"x":-1.838,"y":-1.325},{"f":"10.06GHz","k":"e","i":11,"x":-0.995,"y":-0.954},
      {"f":"10.06GHz","k":"e","i":12,"x":0,"y":-0.439},{"f":"10.06GHz","k":"e","i":13,"x":0.995,"y":0.144},{"f":"10.06GHz","k":"e","i":14,"x":1.838,"y":0.704},
      {"f":"10.06GHz","k":"e","i":15,"x":2.402,"y":1.157},
      {"f":"10.06GHz","k":"h","i":0,"x":0.7,"y":0.8,"dir":161},{"f":"10.06GHz","k":"h","i":1,"x":-1.05,"y":-0.97,"dir":341},

      {"f":"10.58GHz","k":"e","i":0,"x":-2.35,"y":-1.31},{"f":"10.58GHz","k":"e","i":1,"x":2.44,"y":1.31},

      {"f":"10.77GHz","k":"e","i":0,"x":2.13,"y":0},{"f":"10.77GHz","k":"e","i":1,"x":1.968,"y":0.027},{"f":"10.77GHz","k":"e","i":2,"x":1.506,"y":0.049},
      {"f":"10.77GHz","k":"e","i":3,"x":0.815,"y":0.065},{"f":"10.77GHz","k":"e","i":4,"x":0,"y":0.07},{"f":"10.77GHz","k":"e","i":5,"x":-0.815,"y":0.065},
      {"f":"10.77GHz","k":"e","i":6,"x":-1.506,"y":0.049},{"f":"10.77GHz","k":"e","i":7,"x":-1.968,"y":0.027},{"f":"10.77GHz","k":"e","i":8,"x":-2.13,"y":0},
      {"f":"10.77GHz","k":"e","i":9,"x":-1.968,"y":-0.027},{"f":"10.77GHz","k":"e","i":10,"x":-1.506,"y":-0.049},{"f":"10.77GHz","k":"e","i":11,"x":-0.815,"y":-0.065},
      {"f":"10.77GHz","k":"e","i":12,"x":0,"y":-0.07},{"f":"10.77GHz","k":"e","i":13,"x":0.815,"y":-0.065},{"f":"10.77GHz","k":"e","i":14,"x":1.506,"y":-0.049},
      {"f":"10.77GHz","k":"e","i":15,"x":1.968,"y":-0.027},
      {"f":"10.77GHz","k":"a","i":0,"x":-0.47,"y":0.1},{"f":"10.77GHz","k":"a","i":1,"x":-0.4,"y":0.42},{"f":"10.77GHz","k":"a","i":2,"x":-0.22,"y":0.64},
      {"f":"10.77GHz","k":"a","i":3,"x":0,"y":0.72},{"f":"10.77GHz","k":"a","i":4,"x":0.22,"y":0.64},{"f":"10.77GHz","k":"a","i":5,"x":0.4,"y":0.42},
      {"f":"10.77GHz","k":"a","i":6,"x":0.48,"y":0.15},
      {"f":"10.77GHz","k":"h","i":0,"x":0.53,"y":-0.2,"dir":90},

      {"f":"10.88GHz","k":"e","i":0,"x":2.84,"y":1.35},{"f":"10.88GHz","k":"e","i":1,"x":2.624,"y":1.31},{"f":"10.88GHz","k":"e","i":2,"x":2.008,"y":1.072},
      {"f":"10.88GHz","k":"e","i":3,"x":1.087,"y":0.67},{"f":"10.88GHz","k":"e","i":4,"x":0,"y":0.166},{"f":"10.88GHz","k":"e","i":5,"x":-1.087,"y":-0.363},
      {"f":"10.88GHz","k":"e","i":6,"x":-2.008,"y":-0.837},{"f":"10.88GHz","k":"e","i":7,"x":-2.624,"y":-1.184},{"f":"10.88GHz","k":"e","i":8,"x":-2.84,"y":-1.35},
      {"f":"10.88GHz","k":"e","i":9,"x":-2.624,"y":-1.31},{"f":"10.88GHz","k":"e","i":10,"x":-2.008,"y":-1.072},{"f":"10.88GHz","k":"e","i":11,"x":-1.087,"y":-0.67},
      {"f":"10.88GHz","k":"e","i":12,"x":0,"y":-0.166},{"f":"10.88GHz","k":"e","i":13,"x":1.087,"y":0.363},{"f":"10.88GHz","k":"e","i":14,"x":2.008,"y":0.837},
      {"f":"10.88GHz","k":"e","i":15,"x":2.624,"y":1.184},
      {"f":"10.88GHz","k":"h","i":0,"x":1.09,"y":0.67,"dir":345},{"f":"10.88GHz","k":"h","i":1,"x":-1.1,"y":-0.69,"dir":165},

      {"f":"12.39GHz","k":"e","i":0,"x":0.26,"y":2.26},{"f":"12.39GHz","k":"e","i":1,"x":-0.22,"y":-2.31},
      {"f":"12.39GHz","k":"a","i":0,"x":-0.47,"y":0.1},{"f":"12.39GHz","k":"a","i":1,"x":-0.4,"y":0.4},{"f":"12.39GHz","k":"a","i":2,"x":-0.2,"y":0.62},
      {"f":"12.39GHz","k":"a","i":3,"x":0,"y":0.69},{"f":"12.39GHz","k":"a","i":4,"x":0.2,"y":0.64},{"f":"12.39GHz","k":"a","i":5,"x":0.35,"y":0.48},
      {"f":"12.39GHz","k":"a","i":6,"x":0.45,"y":0.25},
      {"f":"12.39GHz","k":"h","i":0,"x":0.5,"y":-0.16,"dir":90}
    ]
  },
  "vconcat": [
    {
      "hconcat": [
        {
          "width": 271,
          "height": 190,
          "title": {"text": "(a)", "anchor": "end", "frame": "group", "offset": -25, "dx": -4, "fontSize": 21},
          "layer": [
            {
              "data": {"values": [{"v": 0}]},
              "mark": {"type": "rule", "color": "#8596aa", "strokeWidth": 1},
              "encoding": {
                "y": {"field": "v", "type": "quantitative", "scale": {"domain": [-100, 100]}, "axis": null}
              }
            },
            {
              "data": {"name": "phi"},
              "transform": [{"filter": "datum.s == 'Experiment'"}],
              "mark": {"type": "point", "filled": false, "strokeWidth": 1.2, "opacity": 1},
              "encoding": {
                "x": {
                  "field": "f", "type": "quantitative", "scale": {"domain": [8.7, 12.5], "nice": false},
                  "axis": {
                    "orient": "bottom", "values": [9, 9.5, 10, 10.5, 11, 11.5, 12, 12.5], "format": "~g",
                    "tickSize": -4, "labelPadding": -88,
                    "title": "Frequency (GHz)", "titleFontWeight": "bold", "titleFontSize": 19,
                    "titleY": 34, "titleBaseline": "alphabetic"
                  }
                },
                "y": {
                  "field": "v", "type": "quantitative", "scale": {"domain": [-100, 100]},
                  "axis": {
                    "orient": "left", "values": [-100, -80, -60, -40, -20, 0, 20, 40, 60, 80, 100],
                    "tickSize": -4, "labelPadding": 9,
                    "title": "φ", "titleFontStyle": "italic", "titleFontWeight": "normal", "titleFontSize": 26,
                    "titleX": -30, "titleY": 97, "titleAlign": "center", "titleBaseline": "middle", "titleAngle": -90
                  }
                },
                "color": {
                  "field": "s", "type": "nominal",
                  "scale": {"domain": ["Experiment", "Simulation"], "range": ["#000000", "#e41a1c"]},
                  "legend": {
                    "orient": "none", "legendX": 177, "legendY": 18, "title": null,
                    "labelFont": "Liberation Serif", "labelFontSize": 12, "labelColor": "#333333",
                    "rowPadding": -10, "labelOffset": 3, "symbolStrokeWidth": 1.2
                  }
                },
                "shape": {
                  "field": "s", "type": "nominal",
                  "scale": {"domain": ["Experiment", "Simulation"], "range": ["circle", "stroke"]}
                },
                "size": {
                  "field": "s", "type": "ordinal",
                  "scale": {"domain": ["Experiment", "Simulation"], "range": [22, 700]}
                }
              }
            },
            {
              "data": {"name": "phi"},
              "transform": [{"filter": "datum.s == 'Simulation'"}],
              "mark": {"type": "line", "strokeWidth": 1.2},
              "encoding": {
                "x": {
                  "field": "f", "type": "quantitative",
                  "axis": {"orient": "top", "values": [9, 9.5, 10, 10.5, 11, 11.5, 12, 12.5], "labels": false, "tickSize": -4, "title": null}
                },
                "y": {
                  "field": "v", "type": "quantitative",
                  "axis": {"orient": "right", "values": [-100, -80, -60, -40, -20, 0, 20, 40, 60, 80, 100], "labels": false, "tickSize": -4, "title": null}
                },
                "color": {"field": "s", "type": "nominal"}
              }
            }
          ],
          "resolve": {"axis": {"x": "independent", "y": "independent"}}
        },
        {
          "width": 267,
          "height": 189,
          "data": {"name": "theta"},
          "title": {"text": "(b)", "anchor": "end", "frame": "group", "offset": -25, "dx": -4, "fontSize": 21},
          "layer": [
            {
              "transform": [{"filter": "datum.s == 'Experiment'"}],
              "mark": {"type": "point", "filled": false, "strokeWidth": 1.2, "opacity": 1},
              "encoding": {
                "x": {
                  "field": "f", "type": "quantitative", "scale": {"domain": [8.65, 12.5], "nice": false},
                  "axis": {
                    "orient": "bottom", "values": [9, 9.5, 10, 10.5, 11, 11.5, 12, 12.5], "format": "~g",
                    "tickSize": -4, "labelPadding": 5,
                    "title": "Frequency (GHz)", "titleFontWeight": "bold", "titleFontSize": 19,
                    "titleY": 35, "titleBaseline": "alphabetic"
                  }
                },
                "y": {
                  "field": "v", "type": "quantitative", "scale": {"domain": [0, 90]},
                  "axis": {
                    "orient": "left", "values": [0, 10, 20, 30, 40, 50, 60, 70, 80, 90],
                    "tickSize": -4, "labelPadding": 7,
                    "title": "θ", "titleFontStyle": "italic", "titleFontWeight": "normal", "titleFontSize": 24,
                    "titleX": -38, "titleY": 99, "titleAlign": "center", "titleBaseline": "middle", "titleAngle": -90
                  }
                },
                "color": {
                  "field": "s", "type": "nominal",
                  "scale": {"domain": ["Experiment", "Simulation"], "range": ["#000000", "#e41a1c"]},
                  "legend": {
                    "orient": "none", "legendX": 171, "legendY": 16, "title": null,
                    "labelFont": "Liberation Serif", "labelFontSize": 12, "labelColor": "#333333",
                    "rowPadding": -10, "labelOffset": 3, "symbolStrokeWidth": 1.2
                  }
                },
                "shape": {
                  "field": "s", "type": "nominal",
                  "scale": {"domain": ["Experiment", "Simulation"], "range": ["circle", "stroke"]}
                },
                "size": {
                  "field": "s", "type": "ordinal",
                  "scale": {"domain": ["Experiment", "Simulation"], "range": [22, 700]}
                }
              }
            },
            {
              "transform": [{"filter": "datum.s == 'Simulation'"}],
              "mark": {"type": "line", "strokeWidth": 1.2},
              "encoding": {
                "x": {
                  "field": "f", "type": "quantitative",
                  "axis": {"orient": "top", "values": [9, 9.5, 10, 10.5, 11, 11.5, 12, 12.5], "labels": false, "tickSize": -4, "title": null}
                },
                "y": {
                  "field": "v", "type": "quantitative",
                  "axis": {"orient": "right", "values": [0, 10, 20, 30, 40, 50, 60, 70, 80, 90], "labels": false, "tickSize": -4, "title": null}
                },
                "color": {"field": "s", "type": "nominal"}
              }
            }
          ],
          "resolve": {"axis": {"x": "independent", "y": "independent"}}
        }
      ],
      "spacing": -11
    },
    {
      "data": {"name": "pol"},
      "title": {
        "text": "(c)", "anchor": "end", "align": "left", "dx": -21, "fontSize": 19, "offset": -2,
        "subtitle": "WWWWWWWWWWWWWWWWWWWWWWWWWWWWWWWWWW",
        "subtitleFontSize": 2, "subtitleColor": "transparent", "subtitlePadding": 0
      },
      "facet": {
        "field": "f", "type": "nominal",
        "sort": ["8.98GHz", "9.79GHz", "9.93GHz", "10.06GHz", "10.58GHz", "10.77GHz", "10.88GHz", "12.39GHz"],
        "header": {
          "title": null, "labelOrient": "bottom", "labelFont": "Liberation Serif",
          "labelFontSize": 19, "labelColor": "#111111", "labelPadding": 0
        }
      },
      "columns": 4,
      "spacing": {"row": 0, "column": 0},
      "resolve": {"axis": {"x": "independent", "y": "independent"}},
      "spec": {
        "width": 149,
        "height": 88,
        "layer": [
          {
            "transform": [{"filter": "datum.k == 'e' && datum.i == 0"}],
            "mark": {"type": "rule", "color": "#e8474c", "strokeDash": [7, 3], "strokeWidth": 1.3},
            "encoding": {
              "x": {
                "datum": 0, "type": "quantitative", "scale": {"domain": [-3, 3]},
                "axis": {"orient": "bottom", "values": [-2, -1, 0, 1, 2], "labels": false, "tickSize": -3, "title": null, "minExtent": 0}
              }
            }
          },
          {
            "transform": [{"filter": "datum.k == 'e' && datum.i == 0"}],
            "mark": {"type": "rule", "color": "#e8474c", "strokeDash": [7, 3], "strokeWidth": 1.3},
            "encoding": {
              "y": {
                "datum": 0, "type": "quantitative", "scale": {"domain": [-3, 3]},
                "axis": {"orient": "left", "values": [-2, -1, 0, 1, 2], "labels": false, "tickSize": -3, "title": null, "minExtent": 0}
              }
            }
          },
          {
            "transform": [{"filter": "datum.k == 'e'"}],
            "mark": {"type": "line", "interpolate": "cardinal-closed", "color": "#111111", "strokeWidth": 1.2},
            "encoding": {
              "x": {
                "field": "x", "type": "quantitative",
                "axis": {"orient": "top", "values": [-2, -1, 0, 1, 2], "labels": false, "tickSize": -3, "title": null, "minExtent": 0}
              },
              "y": {
                "field": "y", "type": "quantitative",
                "axis": {"orient": "right", "values": [-2, -1, 0, 1, 2], "labels": false, "tickSize": -3, "title": null, "minExtent": 0}
              },
              "order": {"field": "i", "type": "quantitative"}
            }
          },
          {
            "transform": [{"filter": "datum.k == 'a'"}],
            "mark": {"type": "line", "interpolate": "cardinal", "color": "#333333", "strokeWidth": 0.8},
            "encoding": {
              "x": {"field": "x", "type": "quantitative", "axis": null},
              "y": {"field": "y", "type": "quantitative", "axis": null},
              "order": {"field": "i", "type": "quantitative"}
            }
          },
          {
            "transform": [{"filter": "datum.k == 'h'"}],
            "mark": {"type": "point", "shape": "triangle-right", "filled": true, "color": "#000000", "size": 70, "opacity": 1},
            "encoding": {
              "x": {"field": "x", "type": "quantitative", "axis": null},
              "y": {"field": "y", "type": "quantitative", "axis": null},
              "angle": {"field": "dir", "type": "quantitative", "scale": null}
            }
          }
        ],
        "resolve": {"axis": {"x": "independent", "y": "independent"}}
      }
    }
  ],
  "spacing": 0,
  "center": true
}
